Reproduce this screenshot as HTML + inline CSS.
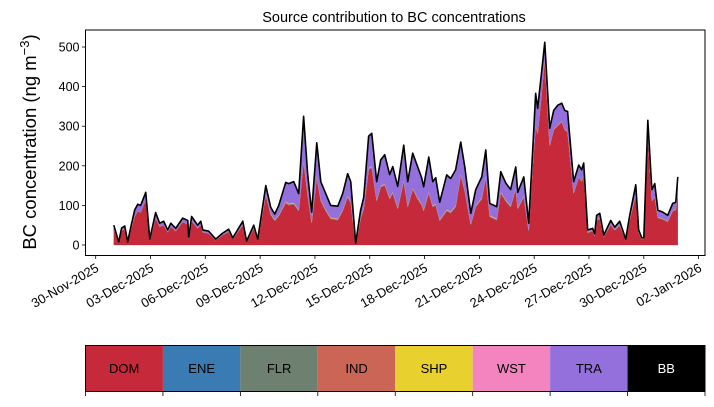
<!DOCTYPE html>
<html><head><meta charset="utf-8"><style>
body{margin:0;background:#fff}
svg text{font-family:"Liberation Sans",sans-serif}
</style></head><body>
<svg id="c" width="714" height="402" viewBox="0 0 714 402" xmlns="http://www.w3.org/2000/svg">
<text x="394" y="22" font-size="14.5" text-anchor="middle">Source contribution to BC concentrations</text>
<text transform="translate(36,142) rotate(-90)" font-size="18.5" text-anchor="middle">BC concentration (ng m<tspan dy="-7" font-size="13">−3</tspan><tspan dy="7">)</tspan></text>
<g id="plot"></g>
<g id="legend"></g>
</svg>
<script>
const tDays=[0.99,1.26,1.42,1.59,1.75,1.92,2.13,2.30,2.46,2.74,2.96,3.28,3.50,3.72,3.94,4.11,4.38,4.76,5.04,5.09,5.25,5.58,5.75,5.86,6.18,6.57,6.95,7.28,7.50,8.05,8.26,8.65,8.87,
9.31,9.58,9.80,10.02,10.40,10.56,10.84,11.11,11.38,11.60,11.82,12.10,12.32,12.59,12.86,13.25,13.52,13.79,13.96,14.23,14.50,14.67,14.94,15.11,15.38,15.60,15.82,16.09,16.26,16.53,16.86,17.08,17.35,17.62,17.84,17.95,18.23,18.45,18.61,18.83,19.21,19.43,19.70,19.98,20.20,20.53,20.80,21.13,21.35,21.57,21.95,22.17,22.44,22.71,22.99,23.10,23.43,23.70,
23.92,24.08,24.19,24.36,24.58,24.85,25.07,25.29,25.51,25.67,25.83,26.16,26.44,26.60,26.71,26.93,27.20,27.31,27.42,27.59,27.81,28.19,28.41,28.68,29.01,29.23,29.56,29.72,29.89,30.00,30.22,30.44,30.60,30.77,31.04,31.31,31.58,31.75,31.86];
const total=[50,8,43,48,8,45,88,103,100,133,15,82,55,60,38,55,42,68,62,20,72,50,60,38,35,15,30,40,18,60,10,50,15,
150,95,78,100,158,155,160,130,325,180,83,258,160,130,100,98,130,180,160,5,88,120,275,282,160,215,228,178,198,148,252,160,232,198,170,147,222,160,170,108,177,168,190,260,198,80,140,172,240,105,97,185,157,140,197,133,172,55,
240,383,345,417,512,295,340,353,358,340,337,160,202,190,207,38,42,28,75,80,25,62,45,60,15,75,152,38,18,18,315,140,155,88,83,75,105,108,172];
const dom=[42,6,36,40,6,38,72,85,82,115,12,68,46,50,32,46,35,58,52,16,60,42,50,32,29,12,25,33,15,50,8,42,12,
125,75,60,72,105,100,102,85,210,125,55,170,110,85,65,62,85,120,105,3,65,90,190,195,110,145,150,115,130,90,160,95,140,115,100,85,130,95,100,60,85,80,95,175,135,50,95,115,170,70,62,130,110,95,140,90,120,35,
200,300,280,360,470,250,290,300,310,290,285,130,170,160,175,30,35,22,62,66,20,50,37,48,12,62,125,30,14,14,280,110,120,68,64,58,85,88,140];
const minor=[1,1,1,1,1,1,1,1,1,1,1,1,1,1,1,1,1,1,1,1,1,1,1,1,1,1,1,1,1,1,1,1,1,
5,5,5,5,5,5,5,5,5,5,5,5,5,5,5,5,5,5,5,2,5,5,5,5,5,5,5,5,5,5,5,5,5,5,5,5,5,5,5,5,5,5,5,5,5,5,5,5,5,5,5,5,5,5,5,5,5,5,
3,3,3,3,3,3,3,3,3,3,3,3,3,3,3,3,3,3,3,3,3,3,3,3,3,3,3,3,3,3,3,3,3,3,3,3,3,3,3];
const yTicks=[0,100,200,300,400,500];
const xTickDays=[0,3,6,9,12,15,18,21,24,27,30,33];
const xTickLabels=["30-Nov-2025","03-Dec-2025","06-Dec-2025","09-Dec-2025","12-Dec-2025","15-Dec-2025","18-Dec-2025","21-Dec-2025","24-Dec-2025","27-Dec-2025","30-Dec-2025","02-Jan-2026"];
const legendNames=["DOM","ENE","FLR","IND","SHP","WST","TRA","BB"];
const legendColors=["#c62a3a","#3a7bb4","#6e8070","#cb6556","#e8d12f","#f484c0","#9370db","#000000"];
const minorShare=[0.15,0.2,0.2,0.25,0.2];

const NS="http://www.w3.org/2000/svg";
const L=85.5,R=705,T=30,B=255.5;
const xS=d=>95.7+d*18.27;
const yS=v=>245-v*0.396;
function mk(tag,attrs,parent){const e=document.createElementNS(NS,tag);for(const k in attrs)e.setAttribute(k,attrs[k]);parent.appendChild(e);return e;}
const plot=document.getElementById('plot');
const n=tDays.length;
const layers=[];
const domV=dom.map((d,i)=>Math.min(d,total[i]));
layers.push(domV);
minorShare.forEach(s=>layers.push(domV.map((d,i)=>Math.min(minor[i],Math.max(0,total[i]-d))*s)));
let base=new Array(n).fill(0);
const bounds=[];
layers.forEach(l=>{const lo=base.slice();base=base.map((b,i)=>b+l[i]);bounds.push([lo,base.slice()]);});
bounds.push([base.slice(),total.slice()]);
bounds.forEach((bd,k)=>{
  let d="";
  for(let i=0;i<n;i++)d+=(i?"L":"M")+xS(tDays[i]).toFixed(2)+","+yS(Math.max(bd[1][i],bd[0][i])).toFixed(2);
  for(let i=n-1;i>=0;i--)d+="L"+xS(tDays[i]).toFixed(2)+","+yS(bd[0][i]).toFixed(2);
  const p=mk('path',{d:d+"Z",fill:legendColors[k],stroke:legendColors[k],'stroke-width':0.3},plot);
  
  
});
let ld="";
for(let i=0;i<n;i++)ld+=(i?"L":"M")+xS(tDays[i]).toFixed(2)+","+yS(total[i]).toFixed(2);
const tl=mk('path',{d:ld,fill:'none',stroke:'#000','stroke-width':1.6,'stroke-linejoin':'round'},plot);


const fr=mk('rect',{x:L,y:T,width:R-L,height:B-T,fill:'none',stroke:'#000','stroke-width':1},plot);


yTicks.forEach(v=>{
  const y=yS(v);
  const tk=mk('line',{x1:L-3.5,x2:L,y1:y,y2:y,stroke:'#000','stroke-width':0.8},plot);
  
  
  const t=mk('text',{x:L-6,y:y+4.5,'font-size':12.5,'text-anchor':'end'},plot);
  t.textContent=v;
  
  
});
xTickDays.forEach((d,i)=>{
  const x=xS(d);
  const tk=mk('line',{x1:x,x2:x,y1:B,y2:B+3.5,stroke:'#000','stroke-width':0.8},plot);
  
  
  const t=mk('text',{x:x+4,y:B+15,'font-size':13,'text-anchor':'end',transform:`rotate(-30 ${x+4} ${B+15})`},plot);
  t.textContent=xTickLabels[i];
  
  
});
const lg=document.getElementById('legend');
const cw=(R-L)/legendNames.length;
legendNames.forEach((nm,i)=>{
  const x=L+i*cw;
  const r=mk('rect',{x:x,y:345.5,width:cw,height:46,fill:legendColors[i]},lg);
  
  
  const t=mk('text',{x:x+cw/2,y:373,'font-size':13,'text-anchor':'middle',fill:nm==="BB"?'#fff':'#000'},lg);
  t.textContent=nm;
  
  
});
for(let i=0;i<=legendNames.length;i++){
  const x=L+i*cw;
  const tk=mk('line',{x1:x,x2:x,y1:391.5,y2:396,stroke:'#000','stroke-width':0.8},lg);
  
  
}
const lf=mk('rect',{x:L,y:345.5,width:R-L,height:46,fill:'none',stroke:'#000','stroke-width':1},lg);


</script>
</body></html>
